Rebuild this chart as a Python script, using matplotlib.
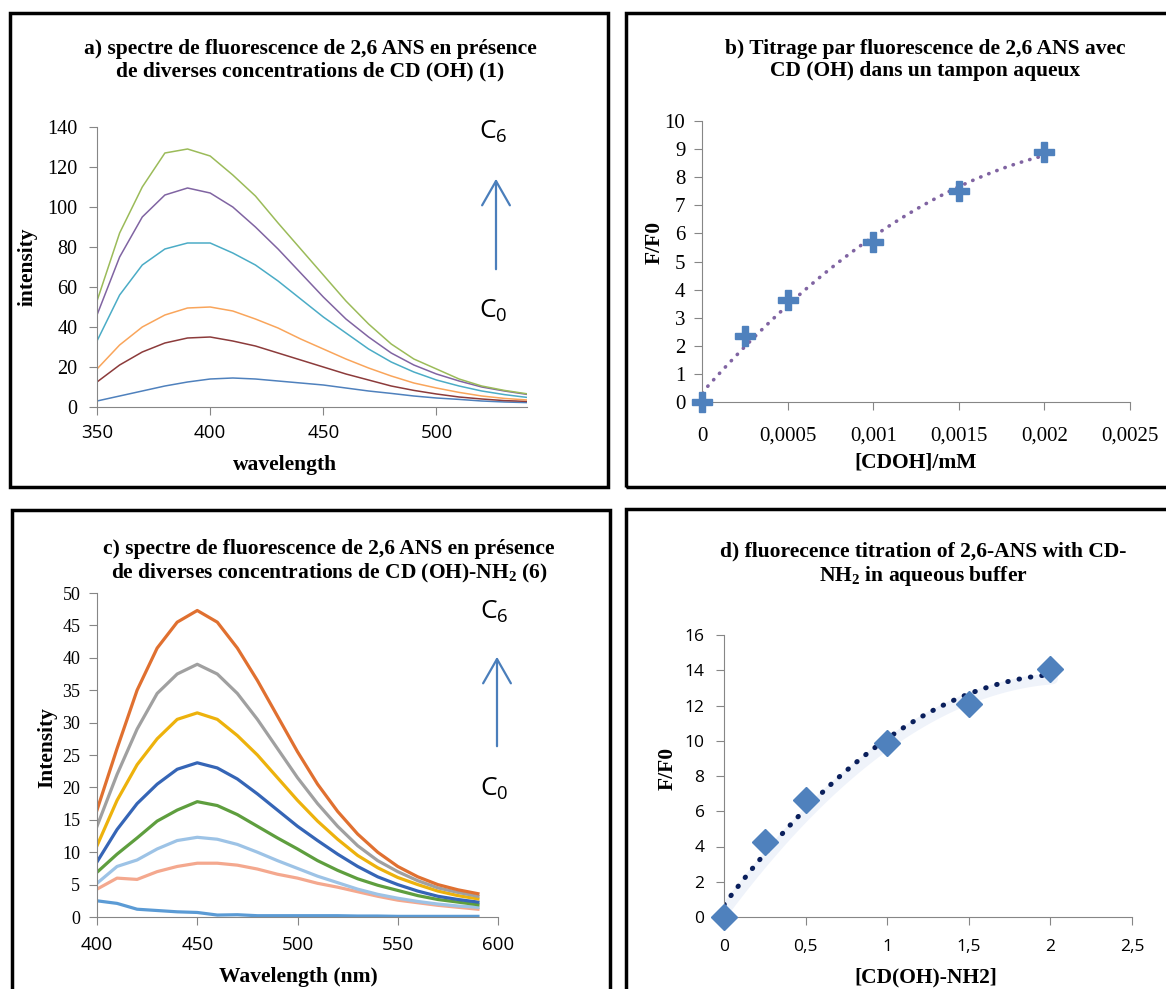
import numpy as np
import matplotlib
matplotlib.use("Agg")
import matplotlib.pyplot as plt
from matplotlib.patches import Rectangle, FancyArrowPatch
from matplotlib.transforms import offset_copy

# ---- data ----
# a) spectra of 2,6 ANS with CD (OH), 350-540 nm every 10 nm
wl_a = [350, 360, 370, 380, 390, 400, 410, 420, 430, 440,
        450, 460, 470, 480, 490, 500, 510, 520, 530, 540]
a_c0 = [3, 5.5, 8, 10.5, 12.5, 14, 14.5, 14, 13, 12,
        11, 9.5, 8, 6.8, 5.5, 4.5, 3.8, 3, 2.5, 2.2]
a_c1 = [12.5, 21, 27.5, 32, 34.5, 35, 33, 30.5, 27, 23.5,
        20, 16.5, 13.5, 10.5, 8.3, 6.5, 5, 4, 3.2, 2.8]
a_c2 = [19, 31, 40, 46, 49.5, 50, 48, 44, 39.5, 34,
        29, 24, 19.5, 15.5, 12, 9.5, 7.3, 5.5, 4.3, 3.5]
a_c3 = [33, 56, 71, 79, 82, 82, 77, 71, 63, 54,
        45, 37, 29, 22.5, 17.5, 13.5, 10.5, 8, 6.2, 4.8]
a_c4 = [46, 75, 95, 106, 109.5, 107, 100, 90, 79, 67,
        55, 44, 35, 27, 21, 16.5, 13, 10, 8, 6.3]
a_c5 = [53, 87, 110, 127, 129, 125.5, 116, 105.5, 92, 79,
        66, 53, 41.5, 31.5, 24, 19, 14, 10.5, 8.3, 6.6]
a_series = [a_c0, a_c1, a_c2, a_c3, a_c4, a_c5]
a_colors = ["#4F81BD", "#8C3B3B", "#F9A55B", "#4BACC6", "#8064A2", "#9BBB59"]

# b) titration with CD (OH)
conc_b = [0, 0.00025, 0.0005, 0.001, 0.0015, 0.002]
ratio_b = [0, 2.34, 3.62, 5.69, 7.52, 8.88]
b_xticks = [0, 0.0005, 0.001, 0.0015, 0.002, 0.0025]
b_xlabels = ["0", "0,0005", "0,001", "0,0015", "0,002", "0,0025"]

# c) spectra of 2,6 ANS with CD (OH)-NH2, 400-590 nm every 10 nm
wl_c = [400, 410, 420, 430, 440, 450, 460, 470, 480, 490,
        500, 510, 520, 530, 540, 550, 560, 570, 580, 590]
c_c0 = [2.5, 2.1, 1.2, 1.0, 0.8, 0.7, 0.3, 0.35, 0.2, 0.2,
        0.2, 0.2, 0.2, 0.15, 0.15, 0.1, 0.1, 0.1, 0.1, 0.1]
c_c1 = [4.3, 6.0, 5.8, 7.0, 7.8, 8.3, 8.3, 8.0, 7.4, 6.6,
        6.0, 5.2, 4.6, 3.9, 3.2, 2.6, 2.2, 1.8, 1.5, 1.2]
c_c2 = [5.2, 7.8, 8.8, 10.5, 11.8, 12.3, 12.0, 11.2, 10.0, 8.7,
        7.5, 6.3, 5.3, 4.3, 3.5, 2.9, 2.4, 2.0, 1.7, 1.5]
c_c3 = [6.9, 9.7, 12.2, 14.8, 16.5, 17.8, 17.2, 15.8, 14.0, 12.2,
        10.5, 8.7, 7.2, 5.9, 4.9, 4.1, 3.3, 2.7, 2.3, 1.9]
c_c4 = [8.5, 13.5, 17.5, 20.5, 22.8, 23.8, 23.0, 21.3, 19.0, 16.5,
        14.0, 11.8, 9.7, 7.8, 6.2, 5.0, 4.0, 3.2, 2.7, 2.3]
c_c5 = [11, 18, 23.5, 27.5, 30.5, 31.5, 30.5, 28, 25, 21.5,
        18, 14.8, 12, 9.5, 7.6, 6.1, 5.0, 4.0, 3.3, 2.8]
c_c6 = [14, 22, 29, 34.5, 37.5, 39, 37.5, 34.5, 30.5, 26,
        21.5, 17.5, 14, 11, 8.7, 7.0, 5.6, 4.5, 3.8, 3.2]
c_c7 = [16.5, 26, 35, 41.5, 45.5, 47.3, 45.5, 41.5, 36.5, 31,
        25.5, 20.5, 16.3, 12.8, 10, 7.8, 6.2, 5.0, 4.2, 3.6]
c_series = [c_c0, c_c1, c_c2, c_c3, c_c4, c_c5, c_c6, c_c7]
c_colors = ["#5B9BD5", "#F4A88E", "#9DC3E6", "#5E9E3E",
            "#3565B6", "#EDB20C", "#A0A0A0", "#E07030"]

# d) titration with CD (OH)-NH2
conc_d = [0, 0.25, 0.5, 1, 1.5, 2]
ratio_d = [0, 4.25, 6.65, 9.86, 12.1, 14.08]
d_xticks = [0, 0.5, 1, 1.5, 2, 2.5]
d_xlabels = ["0", "0,5", "1", "1,5", "2", "2,5"]

# ---- figure setup ----
W, H = 1166, 989
plt.rcParams["mathtext.fontset"] = "custom"
plt.rcParams["mathtext.rm"] = "Liberation Serif"
plt.rcParams["mathtext.it"] = "Liberation Serif:italic"
plt.rcParams["mathtext.bf"] = "Liberation Serif:bold"
plt.rcParams["mathtext.sf"] = "Open Sans"

fig = plt.figure(figsize=(W / 100, H / 100), dpi=100)

serif = "Liberation Serif"
sans = "Open Sans"
axis_grey = "#868686"


def px_axes(left, top, right, bottom):
    # axes from pixel box (origin top-left)
    return fig.add_axes([left / W, 1 - bottom / H, (right - left) / W, (bottom - top) / H])


def style(ax):
    for s in ["top", "right"]:
        ax.spines[s].set_visible(False)
    for s in ["left", "bottom"]:
        ax.spines[s].set_color(axis_grey)
    ax.tick_params(direction="out", length=6, color=axis_grey, labelcolor="black")


def title(x, y, txt):
    fig.text(x / W, 1 - y / H, txt, ha="center", va="center", family=serif,
             weight="bold", fontsize=15.5, linespacing=1.15)


def label(x, y, txt, rot=0):
    fig.text(x / W, 1 - y / H, txt, ha="center", va="center", family=serif,
             weight="bold", fontsize=15.5, rotation=rot)


def panel_box(x0, y0, x1, y1):
    fig.add_artist(Rectangle((x0 / W, 1 - y1 / H), (x1 - x0) / W, (y1 - y0) / H,
                             transform=fig.transFigure, fill=False, lw=2.5, ec="black"))


def conc_arrow(x, y_top, y_bot, c6_y, c0_y):
    fig.add_artist(FancyArrowPatch(
        (x / W, 1 - y_bot / H), (x / W, 1 - y_top / H), transform=fig.transFigure,
        arrowstyle="->,head_length=0.7,head_width=0.4", mutation_scale=25,
        color="#4A7EBB", lw=1.6))
    fig.text((x - 3) / W, 1 - c6_y / H, r"$\mathsf{C_6}$", ha="center", va="center", fontsize=19)
    fig.text((x - 3) / W, 1 - c0_y / H, r"$\mathsf{C_0}$", ha="center", va="center", fontsize=19)


# panel borders
panel_box(10, 13, 608, 487)
panel_box(626, 13, 1180, 487)
panel_box(12, 510, 610, 1000)
panel_box(626, 509, 1180, 1000)

# ---- a) ----
ax_a = px_axes(97, 127, 527, 407)
for ys, col in zip(a_series, a_colors):
    ax_a.plot(wl_a, ys, color=col, lw=1.1)
ax_a.set_xlim(350, 540)
ax_a.set_ylim(0, 140)
ax_a.set_xticks([350, 400, 450, 500])
ax_a.set_yticks(range(0, 141, 20))
style(ax_a)
for t in ax_a.get_yticklabels():
    t.set_family(serif)
    t.set_fontsize(14.5)
for t in ax_a.get_xticklabels():
    t.set_family(sans)
    t.set_fontsize(13.5)
ax_a.tick_params(axis="y", pad=8)
ax_a.tick_params(axis="x", pad=6)
title(310, 60, "a) spectre de fluorescence de 2,6 ANS en présence\nde diverses concentrations de CD (OH) (1)")
label(285, 465, "wavelength")
label(28, 267, "intensity", rot=90)
conc_arrow(496, 176, 272, 132, 311)

# ---- b) ----
ax_b = px_axes(702, 121, 1130, 402)
fit_b = np.polyfit(conc_b, ratio_b, 2)
xb = np.linspace(0, conc_b[-1], 100)
ax_b.plot(xb, np.polyval(fit_b, xb), color="#8064A2", lw=2.6,
          linestyle=(0, (0.1, 2.3)), dash_capstyle="round")
ax_b.plot(conc_b, ratio_b, linestyle="none", marker="P", ms=14, color="#4F81BD",
          mec="#4F81BD", clip_on=False, zorder=3)
ax_b.set_xlim(0, 0.0025)
ax_b.set_ylim(0, 10)
ax_b.set_xticks(b_xticks)
ax_b.set_xticklabels(b_xlabels)
ax_b.set_yticks(range(0, 11))
style(ax_b)
for t in ax_b.get_xticklabels() + ax_b.get_yticklabels():
    t.set_family(serif)
    t.set_fontsize(15)
ax_b.tick_params(axis="x", pad=12)
ax_b.tick_params(axis="y", pad=6)
title(925, 60, "b) Titrage par fluorescence de 2,6 ANS avec\nCD (OH) dans un tampon aqueux")
label(916, 463, "[CDOH]/mM")
label(655, 242, "F/F0", rot=90)

# ---- c) ----
ax_c = px_axes(97, 593, 498, 917)
for ys, col in zip(c_series, c_colors):
    ax_c.plot(wl_c, ys, color=col, lw=2.3)
ax_c.set_xlim(400, 600)
ax_c.set_ylim(0, 50)
ax_c.set_xticks(range(400, 601, 50))
ax_c.set_yticks(range(0, 51, 5))
style(ax_c)
for t in ax_c.get_yticklabels():
    t.set_family(serif)
    t.set_fontsize(13)
for t in ax_c.get_xticklabels():
    t.set_family(sans)
    t.set_fontsize(13.5)
ax_c.tick_params(axis="y", pad=6)
ax_c.tick_params(axis="x", pad=8)
title(329, 562, "c) spectre de fluorescence de 2,6 ANS en présence\nde diverses concentrations de CD (OH)-NH$_\\mathbf{2}$ (6)")
label(298, 977, "Wavelength (nm)")
label(47, 748, "Intensity", rot=90)
conc_arrow(497, 654, 749, 612, 789)

# ---- d) ----
ax_d = px_axes(724, 635, 1132, 917)
fit_d = np.polyfit(conc_d, ratio_d, 2)
xd = np.linspace(0, conc_d[-1], 100)
# soft shadow under the trendline, then the dotted trendline itself
shadow = offset_copy(ax_d.transData, fig=fig, x=2, y=-4, units="dots")
ax_d.plot(xd, np.polyval(fit_d, xd), color="#A9BDE6", lw=8, alpha=0.18,
          solid_capstyle="round", transform=shadow)
ax_d.plot(xd, np.polyval(fit_d, xd), color="#0A1F5C", lw=3.6,
          linestyle=(0, (0.1, 2.2)), dash_capstyle="round")
ax_d.plot(conc_d, ratio_d, linestyle="none", marker="D", ms=13, color="#4F81BD",
          clip_on=False, zorder=3)
ax_d.set_xlim(0, 2.5)
ax_d.set_ylim(0, 16)
ax_d.set_xticks(d_xticks)
ax_d.set_xticklabels(d_xlabels)
ax_d.set_yticks(range(0, 17, 2))
style(ax_d)
for t in ax_d.get_xticklabels() + ax_d.get_yticklabels():
    t.set_family(sans)
    t.set_fontsize(12.5)
ax_d.tick_params(axis="x", pad=10)
ax_d.tick_params(axis="y", pad=8)
title(923, 565, "d) fluorecence titration of 2,6-ANS with CD-\nNH$_\\mathbf{2}$ in aqueous buffer")
label(926, 977, "[CD(OH)-NH2]")
label(668, 768, "F/F0", rot=90)

plt.savefig("out.png", dpi=100)
